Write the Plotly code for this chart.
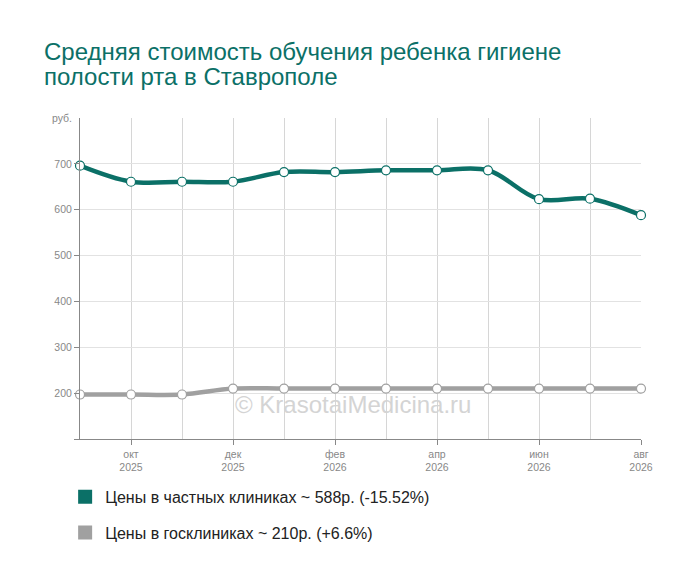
import plotly.graph_objects as go

# months on the x axis (sep 2025 .. aug 2026)
months = ['сен 2025', 'окт 2025', 'ноя 2025', 'дек 2025', 'янв 2026', 'фев 2026',
          'мар 2026', 'апр 2026', 'май 2026', 'июн 2026', 'июл 2026', 'авг 2026']
tick_idx = [1, 3, 5, 7, 9, 11]
tick_text = ['окт<br>2025', 'дек<br>2025', 'фев<br>2026', 'апр<br>2026', 'июн<br>2026', 'авг<br>2026']

private_prices = [696, 661, 661, 661, 682, 682, 686, 686, 686, 623, 624, 588]
state_prices = [197, 197, 197, 210, 210, 210, 210, 210, 210, 210, 210, 210]

title_lines = ['Средняя стоимость обучения ребенка гигиене', 'полости рта в Ставрополе']

teal = '#0b7067'
grey = '#a0a0a0'
x = list(range(len(months)))


def legend_label(name, vals):
    pct = (vals[-1] - vals[0]) / vals[0] * 100
    sign = '+' if pct > 0 else ''
    return f'{name} ~ {vals[-1]}р. ({sign}{pct:.2f}%)'.replace('.60%', '.6%')


fig = go.Figure()

for vals, col in [(private_prices, teal), (state_prices, grey)]:
    fig.add_trace(go.Scatter(
        x=x, y=vals, mode='lines+markers', showlegend=False, cliponaxis=False,
        line=dict(color=col, width=4.5, shape='spline', smoothing=1),
        marker=dict(size=9, color='white', line=dict(color=col, width=1.2)),
        hovertext=months,
    ))

# dummy traces just for the square legend entries
for i, (name, vals, col) in enumerate([('Цены в частных клиниках', private_prices, teal),
                                       ('Цены в госклиниках', state_prices, grey)]):
    fig.add_trace(go.Scatter(
        x=[None], y=[None], mode='markers', name=legend_label(name, vals),
        legendgroup=str(i),
        marker=dict(symbol='square', size=14, color=col),
    ))

# page has an 8px body margin, so the figure is laid out 8px up/left
fig.update_layout(
    width=700, height=582,
    margin=dict(l=72, r=67, t=110, b=151),
    paper_bgcolor='white', plot_bgcolor='white',
    font=dict(family='Liberation Sans, Arial, sans-serif', color='#888'),
    legend=dict(x=-0.0265, xanchor='left', y=-0.127, yanchor='top',
                font=dict(size=16, color='#222'), tracegroupgap=12,
                itemsizing='trace'),
    xaxis=dict(range=[0, 11], tickvals=tick_idx, ticktext=tick_text,
               showgrid=False, showline=True, linecolor='#888', linewidth=1,
               ticks='outside', ticklen=5, tickcolor='#888',
               tickfont=dict(size=10.5, color='#888'), zeroline=False,
               minor=dict(tickvals=list(range(1, 11)), showgrid=True,
                          gridcolor='#d6d6d6', gridwidth=1, ticks='')),
    yaxis=dict(range=[100, 800], tickvals=[100, 200, 300, 400, 500, 600, 700],
               ticktext=['', '200', '300', '400', '500', '600', '700'],
               showgrid=True, gridcolor='#e2e2e2', gridwidth=1,
               showline=True, linecolor='#888', linewidth=1,
               ticks='outside', ticklen=5, tickcolor='#888',
               tickfont=dict(size=10.5, color='#888'), zeroline=False),
    annotations=[
        dict(text=title_lines[0], xref='paper', yref='paper', x=-38 / 561, y=1.2087,
             xanchor='left', yanchor='middle', showarrow=False,
             font=dict(size=24, color=teal)),
        dict(text=title_lines[1], xref='paper', yref='paper', x=-38 / 561, y=1.1308,
             xanchor='left', yanchor='middle', showarrow=False,
             font=dict(size=24, color=teal)),
        dict(text='руб.', xref='paper', yref='y', x=0, y=800, xanchor='right',
             xshift=-6, showarrow=False, font=dict(size=10.5, color='#888')),
        dict(text='© KrasotaiMedicina.ru', xref='paper', yref='paper',
             x=0.487, y=0.06, showarrow=False,
             font=dict(size=24, color='#d4d4d4')),
    ],
)

fig.write_html('out.html')
